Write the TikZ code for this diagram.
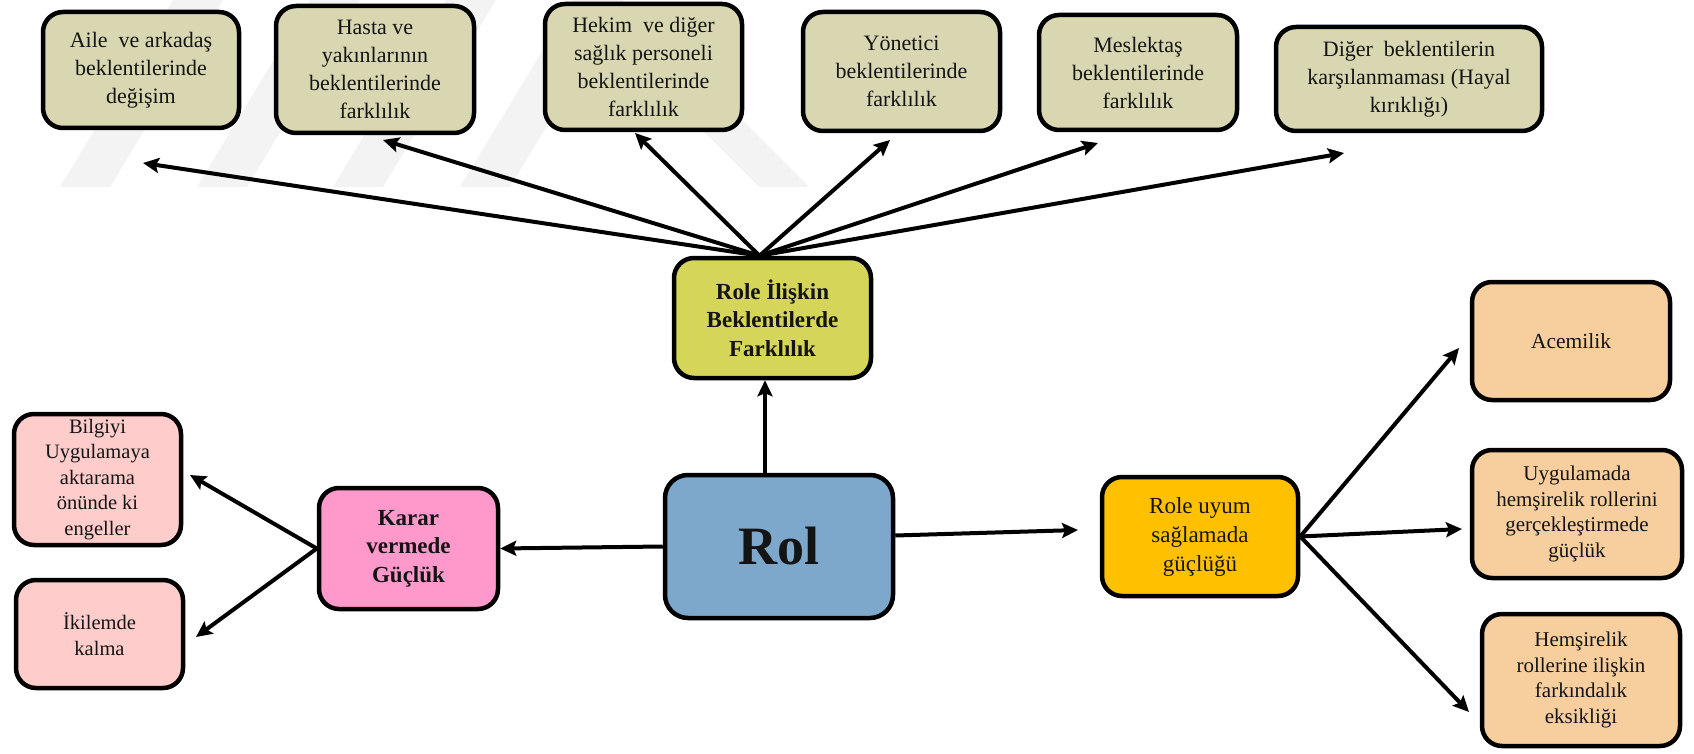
\documentclass[tikz,border=0pt]{standalone}
\usepackage{fontspec}
\setmainfont{Liberation Serif}
\usetikzlibrary{arrows.meta,calc}

\definecolor{tanbox}{HTML}{D9D7B1}
\definecolor{olivebox}{HTML}{D5D55A}
\definecolor{rolblue}{HTML}{7EA8CB}
\definecolor{pinkbox}{HTML}{FF99CC}
\definecolor{rosebox}{HTML}{FFCCCC}
\definecolor{amberbox}{HTML}{FFC000}
\definecolor{peachbox}{HTML}{F7CE9E}
\definecolor{wmgray}{HTML}{F3F3F3}

\begin{document}
\begin{tikzpicture}[x=1pt,y=-1pt,
  box/.style={draw=black, line width=4.5pt, rounded corners=20pt, align=center,
              inner sep=2pt, text=black!92},
  norm/.style={font=\fontsize{22}{28}\selectfont},
  small/.style={font=\fontsize{20.5}{25.5}\selectfont},
  head/.style={font=\bfseries\fontsize{23}{28.5}\selectfont},
  arr/.style={line width=4pt, -{Stealth[length=16pt,width=15pt,inset=3pt]}},
  wm/.style={fill=wmgray, draw=none}]

\useasboundingbox (0,0) rectangle (1694,754);

% faint hatched emblem in the background
\foreach \x in {60,197,333,460}
  \fill[wm] (\x,187) -- (\x+50,187) -- (\x+163,0) -- (\x+113,0) -- cycle;
\fill[wm] (759,187) -- (809,187) -- (622,0) -- (572,0) -- cycle;

% top row: sources of differing expectations
\node[box, norm, fill=tanbox, minimum width=196pt, minimum height=116pt] (aile) at (141,70)
  {Aile\ \ ve arkadaş\\beklentilerinde\\değişim};
\node[box, norm, fill=tanbox, minimum width=198pt, minimum height=127pt] (hasta) at (375,69.5)
  {Hasta ve\\yakınlarının\\beklentilerinde\\farklılık};
\node[box, norm, fill=tanbox, minimum width=197pt, minimum height=126pt] (hekim) at (643.5,67)
  {Hekim\ \ ve diğer\\sağlık personeli\\beklentilerinde\\farklılık};
\node[box, norm, fill=tanbox, minimum width=197pt, minimum height=119pt] (yonetici) at (901.5,71.5)
  {Yönetici\\beklentilerinde\\farklılık};
\node[box, norm, fill=tanbox, minimum width=198pt, minimum height=115pt] (meslek) at (1138,72.5)
  {Meslektaş\\beklentilerinde\\farklılık};
\node[box, norm, fill=tanbox, minimum width=266pt, minimum height=104pt] (diger) at (1409,79)
  {Diğer\ \ beklentilerin\\karşılanmaması (Hayal\\kırıklığı)};

% central nodes
\node[box, head, fill=olivebox, minimum width=197pt, minimum height=120pt] (ilis) at (772.5,318)
  {Role İlişkin\\Beklentilerde\\Farklılık};
\node[box, fill=rolblue, rounded corners=23pt, minimum width=228pt, minimum height=143pt,
      font=\bfseries\fontsize{54}{60}\selectfont] (rol) at (779,546.5) {Rol};

% left branch
\node[box, head, fill=pinkbox, minimum width=179pt, minimum height=121pt] (karar) at (408.5,548.5)
  {Karar\\vermede\\Güçlük};
\node[box, small, fill=rosebox, minimum width=167pt, minimum height=131pt] (bilgi) at (97.5,479.5)
  {Bilgiyi\\Uygulamaya\\aktarama\\önünde ki\\engeller};
\node[box, small, fill=rosebox, minimum width=167pt, minimum height=108pt] (ikilem) at (99.5,634)
  {İkilemde\\kalma};

% right branch
\node[box, fill=amberbox, minimum width=196pt, minimum height=119pt,
      font=\fontsize{23}{29}\selectfont] (uyum) at (1200,536.5)
  {Role uyum\\sağlamada\\güçlüğü};
\node[box, font=\fontsize{21.5}{26}\selectfont, fill=peachbox, minimum width=198pt, minimum height=118pt] (acemi) at (1571,341)
  {Acemilik};
\node[box, font=\fontsize{21}{25.5}\selectfont, fill=peachbox, minimum width=210pt, minimum height=128pt] (uygu) at (1577,514)
  {Uygulamada\\hemşirelik rollerini\\gerçekleştirmede\\güçlük};
\node[box, font=\fontsize{21}{25.5}\selectfont, fill=peachbox, minimum width=198pt, minimum height=132pt] (hems) at (1581,680)
  {Hemşirelik\\rollerine ilişkin\\farkındalık\\eksikliği};

% free ends of the arrows
\coordinate (tA) at (143,163);
\coordinate (tB) at (383,140);
\coordinate (tC) at (635,133);
\coordinate (tD) at (890,140);
\coordinate (tE) at (1098,143);
\coordinate (tF) at (1344,153);
\coordinate (tG) at (190,475);
\coordinate (tH) at (196,637);
\coordinate (tI) at (1459,348);
\coordinate (tJ) at (1462,529);
\coordinate (tK) at (1469,712);
\coordinate (tL) at (1078,530);
\coordinate (fan) at ($(ilis.north)+(-13,0)$);

% fan of expectations
\foreach \t in {tA,tB,tC,tD,tE,tF}
  \draw[arr] (fan) -- (\t);

% from the centre outwards
\draw[arr] ([xshift=-14pt]rol.north) -- ([xshift=-7.5pt]ilis.south);
\draw[arr] (rol.west) -- (karar.east);
\draw[arr] ([yshift=11pt]rol.east) -- (tL);

\draw[arr] (karar.west) -- (tG);
\draw[arr] (karar.west) -- (tH);

\draw[arr] (uyum.east) -- (tI);
\draw[arr] (uyum.east) -- (tJ);
\draw[arr] (uyum.east) -- (tK);
\end{tikzpicture}
\end{document}
